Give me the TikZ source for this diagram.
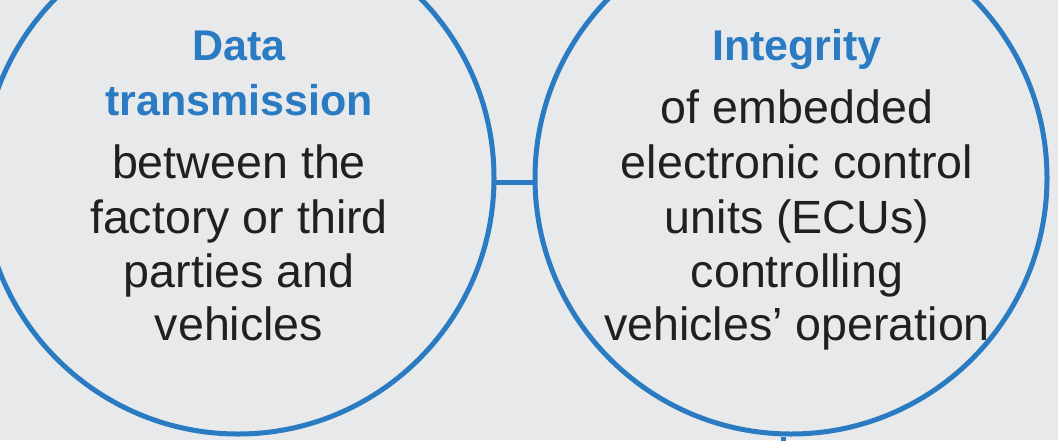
\documentclass[tikz,border=0pt]{standalone}
\usepackage{fontspec}
\setmainfont{Liberation Sans}
\definecolor{ringblue}{RGB}{42,123,194}
\definecolor{paper}{RGB}{232,233,235}
\definecolor{ink}{RGB}{35,31,32}
\tikzset{
  ring/.style={circle, draw=ringblue, line width=5pt, minimum size=512pt, inner sep=0pt},
  link/.style={draw=ringblue, line width=5pt},
  headline/.style={anchor=base, inner sep=0pt, text=ringblue, font=\fontsize{43}{52}\selectfont\bfseries},
  bodyline/.style={anchor=base, inner sep=0pt, text=ink, font=\fontsize{46.6}{55}\selectfont}
}
\begin{document}
\begin{tikzpicture}[x=1pt, y=-1pt]
  \useasboundingbox (0,0) rectangle (1058,440);
  \fill[paper] (0,0) rectangle (1058,440);
  \clip (0,0) rectangle (1058,440);

  % the two rings and the bar joining them
  \node[ring] (L) at (238,178) {};
  \node[ring] (R) at (791,178) {};
  \draw[link] (L.-1.6) -- (R.181.6);

  % start of a line leaving the right ring downwards
  \coordinate (Rfoot) at (783,450);
  \draw[link] (Rfoot |- R.south) -- (Rfoot);

  % left ring text
  \node[headline] (l1) at (239,60)  {Data};
  \node[headline] (l2) at (239,115) {transmission};
  \node[bodyline] (l3) at (239,178) {between the};
  \node[bodyline] (l4) at (239,233) {factory or third};
  \node[bodyline] (l5) at (239,287) {parties and};
  \node[bodyline] (l6) at (239,340) {vehicles};

  % right ring text
  \node[headline] (r1) at (797,60)  {Integrity};
  \node[bodyline] (r2) at (797,123) {of embedded};
  \node[bodyline] (r3) at (797,178) {electronic control};
  \node[bodyline] (r4) at (797,233) {units (ECUs)};
  \node[bodyline] (r5) at (797,287) {controlling};
  \node[bodyline] (r6) at (797,340) {vehicles’ operation};
\end{tikzpicture}
\end{document}
